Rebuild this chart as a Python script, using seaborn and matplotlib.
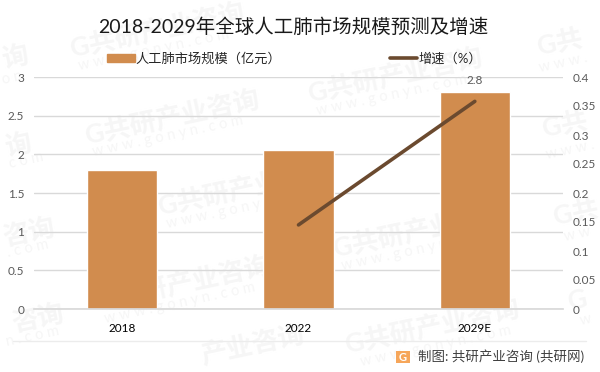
import numpy as np
import pandas as pd
import seaborn as sns
import matplotlib.pyplot as plt
from matplotlib.patches import Patch, FancyBboxPatch
from matplotlib.lines import Line2D

years = ["2018", "2022", "2029E"]
market_size = [1.8, 2.05, 2.8]
growth = [np.nan, 0.145, 0.358]
left_ticks = [0, 0.5, 1, 1.5, 2, 2.5, 3]
right_ticks = [0, 0.05, 0.1, 0.15, 0.2, 0.25, 0.3, 0.35, 0.4]
title = "2018-2029年全球人工肺市场规模预测及增速"
bar_name = "人工肺市场规模（亿元）"
line_name = "增速（%）"
source = "制图: 共研产业咨询 (共研网)"
# watermark pieces, centres in pixels
URL = "w w w . g o n y n . c o m"
mark_logos = [(157, 30, "G共研产业咨询"), (172, 117, "G共研产业咨询"), (395, 75, "G共研产业咨询"),
              (183, 283, "G共研产业咨询"), (245, 188, "G共研产业咨询"), (420, 230, "G共研产业咨询"),
              (432, 326, "G共研产业咨询"), (560, 43, "G共"), (565, 125, "G共"), (576, 213, "G共"),
              (578, 300, "G"), (18, 145, "询"), (15, 57, "询"), (29, 232, "咨询"), (38, 318, "咨询"),
              (252, 344, "产业咨询")]
mark_urls = [(154, 50, URL), (168, 136, URL), (392, 95, URL), (180, 303, URL), (242, 208, URL),
             (417, 250, URL), (436, 346, URL), (563, 63, "w w w ."), (570, 150, "w w w ."),
             (577, 234, "w w"), (586, 320, "w"), (26, 160, "c o m"), (12, 78, "o n"),
             (28, 249, ". c o m"), (33, 336, "n . c o m")]

W, H = 600, 372
BAR = "#d18c4e"
LINE = "#6b4a2f"
GRID = "#d9d9d9"
TICK = "#595959"
MARK = "#f6f6f6"

sns.set_theme(style="white")
plt.rcParams["font.family"] = ["Lato", "Noto Sans CJK SC", "DejaVu Sans"]

df = pd.DataFrame({"year": years, "size": market_size, "growth": growth})

fig = plt.figure(figsize=(6, 3.72), dpi=100)
ax = fig.add_axes([34 / W, 1 - 309 / H, (563 - 34) / W, (309 - 77) / H])
ax.patch.set_visible(False)

sns.barplot(data=df, x="year", y="size", ax=ax, color=BAR, saturation=1, width=0.4, zorder=2)
ax.set_xlim(-0.5, 2.5)
ax.set_ylim(0, 3)
ax.set_yticks(left_ticks)
ax.set_yticklabels([f"{t:g}" for t in left_ticks])
ax.set_xlabel("")
ax.set_ylabel("")
ax.grid(axis="y", color=GRID, lw=1)
ax.set_axisbelow(True)
ax.tick_params(axis="y", length=0, labelsize=8.5, labelcolor=TICK, pad=7)
ax.tick_params(axis="x", length=0, labelsize=8.5, labelcolor="black", pad=10)
sns.despine(ax=ax, left=True)
ax.spines["bottom"].set_color(GRID)
ax.bar_label(ax.containers[0], labels=["", "", "2.8"], padding=5, fontsize=8.5, color=TICK)

ax2 = ax.twinx()
ax2.patch.set_visible(False)
sns.lineplot(data=df, x="year", y="growth", ax=ax2, color=LINE, lw=2.6)
ax2.set_ylim(0, 0.4)
ax2.set_yticks(right_ticks)
ax2.set_yticklabels([f"{t:g}" for t in right_ticks])
ax2.set_xlabel("")
ax2.set_ylabel("")
ax2.grid(False)
ax2.tick_params(axis="y", length=0, labelsize=8.5, labelcolor=TICK, pad=7)
sns.despine(ax=ax2, left=True, right=True, bottom=True)

fig.text(293 / W, 1 - 27 / H, title, ha="center", va="center", fontsize=14, color="#1a1a1a")

handles = [Patch(color=BAR, label=bar_name), Line2D([], [], color=LINE, lw=2.6, label=line_name)]
fig.legend(handles=handles, ncol=2, frameon=False, fontsize=9.5, loc="center left",
           bbox_to_anchor=(95 / W, 1 - 58 / H), handlelength=2.1, handleheight=0.55,
           handletextpad=0.08, columnspacing=8.2, labelcolor="#262626")

# footer
fig.add_artist(Line2D([13 / W, 586 / W], [1 - 341 / H] * 2, color="#ececec", lw=1))
fig.add_artist(FancyBboxPatch((396 / W, 1 - 363 / H), 14 / W, 12 / H, boxstyle="round,pad=0",
                              transform=fig.transFigure, fc="#f6a65a", ec="none"))
fig.text(403 / W, 1 - 357.5 / H, "G", ha="center", va="center", fontsize=8, fontweight="bold", color="white")
fig.text(418 / W, 1 - 356 / H, source, ha="left", va="center", fontsize=9.7, color="#404040")

# watermark
for x, y, s in mark_logos:
    fig.text(x / W, 1 - y / H, s, ha="center", va="center", rotation=12, fontsize=19,
             fontweight="bold", color=MARK, zorder=-2, rotation_mode="anchor")
for x, y, s in mark_urls:
    fig.text(x / W, 1 - y / H, s, ha="center", va="center", rotation=12, fontsize=10.5,
             color=MARK, zorder=-2, rotation_mode="anchor")

fig.savefig("out.png", dpi=100)
